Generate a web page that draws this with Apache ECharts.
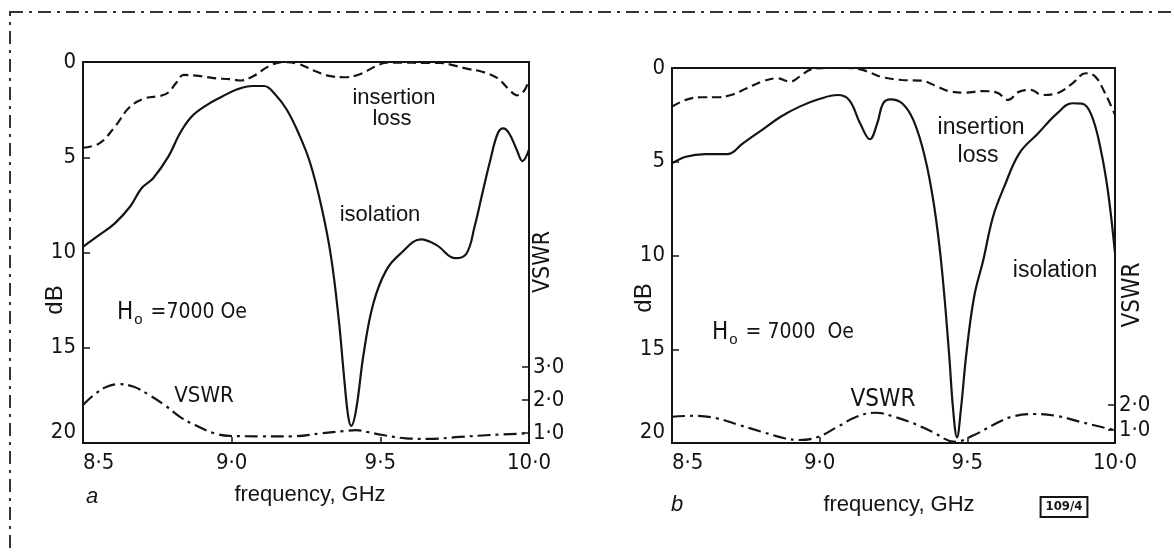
<!DOCTYPE html>
<html><head><meta charset="utf-8">
<script src="https://cdn.jsdelivr.net/npm/echarts@6/dist/echarts.min.js"></script>
<style>html,body{margin:0;padding:0;background:#fff}#c{width:1174px;height:552px}</style>
</head><body><div id="c"></div>
<script>
// ---- tick labels ----
const xTicks = [8.5, 9.0, 9.5, 10.0];
const dbTicks = [0, 5, 10, 15, 20];
const vswrTicksA = [1, 2, 3];
const vswrTicksB = [1, 2];

// ---- panel a ----
const freqInsA = [8.5,8.555,8.607,8.658,8.71,8.761,8.787,8.813,8.839,8.89,8.94,8.993,9.03,9.074,9.122,9.173,9.224,9.276,9.328,9.379,9.431,9.482,9.52,9.58,9.64,9.70,9.74,9.79,9.84,9.894,9.933,9.959,9.984,10.0];
const insA     = [4.5,4.27,3.4,2.35,1.9,1.78,1.6,1.1,0.68,0.73,0.85,0.9,0.97,0.73,0.25,0.0,0.1,0.45,0.73,0.8,0.64,0.25,0.04,0.03,0.05,0.05,0.15,0.35,0.5,0.85,1.45,1.75,1.5,0.9];

const freqIsoA = [8.5,8.555,8.607,8.658,8.697,8.736,8.787,8.826,8.865,8.916,8.967,9.019,9.071,9.109,9.148,9.186,9.225,9.264,9.302,9.334,9.36,9.379,9.392,9.402,9.418,9.444,9.476,9.521,9.572,9.637,9.688,9.753,9.79,9.817,9.843,9.87,9.895,9.913,9.933,9.959,9.978,10.0];
const isoA     = [9.7,9.08,8.47,7.6,6.63,6.1,4.97,3.74,2.87,2.26,1.82,1.43,1.26,1.26,1.73,2.52,3.74,5.3,7.6,10.2,13.5,16.7,18.6,19.1,18.3,15.3,12.7,10.9,10.0,9.31,9.6,10.3,10.05,8.64,6.9,5.14,3.74,3.48,3.74,4.62,5.2,4.6];

const freqVswrA = [8.5,8.543,8.58,8.62,8.671,8.723,8.774,8.826,8.877,8.942,8.993,9.096,9.2,9.302,9.379,9.418,9.457,9.508,9.585,9.663,9.766,9.87,10.0];
const vswrA     = [1.85,2.2,2.4,2.48,2.4,2.15,1.85,1.49,1.24,0.99,0.91,0.9,0.9,0.99,1.06,1.09,1.03,0.94,0.84,0.82,0.88,0.94,0.99];

// ---- panel b ----
const freqInsB = [8.5,8.547,8.598,8.65,8.70,8.753,8.804,8.855,8.9,8.932,8.971,9.02,9.086,9.138,9.176,9.215,9.279,9.343,9.394,9.445,9.497,9.548,9.6,9.638,9.676,9.715,9.753,9.804,9.856,9.901,9.933,9.965,10.0];
const insB     = [2.06,1.7,1.56,1.56,1.44,1.08,0.73,0.55,0.73,0.46,0.07,0.0,0.0,0.07,0.28,0.5,0.64,0.67,0.96,1.26,1.31,1.23,1.31,1.7,1.26,1.17,1.44,1.35,0.82,0.28,0.46,1.3,2.5];

const freqIsoB = [8.5,8.547,8.612,8.689,8.74,8.804,8.868,8.932,8.996,9.061,9.1,9.137,9.17,9.195,9.215,9.24,9.279,9.317,9.356,9.388,9.413,9.438,9.452,9.465,9.478,9.497,9.523,9.554,9.587,9.625,9.676,9.74,9.804,9.856,9.888,9.92,9.952,9.977,10.0];
const isoB     = [5.08,4.73,4.59,4.59,4.02,3.31,2.6,2.06,1.67,1.44,1.71,2.95,3.8,2.95,1.88,1.67,1.88,2.77,4.73,7.4,10.6,15.2,18.24,19.7,18.24,15.2,12.2,10.24,7.93,6.33,4.55,3.48,2.42,1.88,1.9,2.5,4.37,6.68,9.88];

const freqVswrB = [8.5,8.573,8.65,8.727,8.804,8.881,8.932,8.996,9.061,9.125,9.19,9.253,9.317,9.381,9.458,9.523,9.587,9.65,9.727,9.804,9.881,9.958,10.0];
const vswrB     = [1.53,1.57,1.47,1.2,0.93,0.67,0.6,0.73,1.13,1.53,1.69,1.53,1.27,0.93,0.53,0.8,1.2,1.53,1.64,1.56,1.33,1.11,1.0];

const zip = (a, b) => a.map((v, i) => [v, b[i]]);
const NUM = "'Liberation Sans Narrow','DejaVu Sans Condensed','Liberation Sans',sans-serif";
const TXT = "'Liberation Sans','DejaVu Sans',sans-serif";
const INK = '#141414';
const dot = v => v.toFixed(1).replace('.', '\u00b7');

function xAx(grid) {
  return {
    type: 'value', gridIndex: grid, min: 8.5, max: 10, interval: 0.5, position: 'bottom',
    axisLine: {show: true, onZero: false, lineStyle: {color: INK, width: 2}},
    axisTick: {show: true, inside: true, length: 6, customValues: [9.0, 9.5], lineStyle: {color: INK, width: 1.5}},
    axisLabel: {color: INK, fontFamily: NUM, fontSize: 22, margin: 9, formatter: dot,
      customValues: xTicks, alignMinLabel: 'left'},
    splitLine: {show: false}
  };
}
function dbAx(grid) {
  return {
    type: 'value', gridIndex: grid, min: 0, max: 20, interval: 5, inverse: true, position: 'left',
    axisLine: {show: true, onZero: false, lineStyle: {color: INK, width: 2}},
    axisTick: {show: true, inside: true, length: 7, customValues: [5, 10, 15], lineStyle: {color: INK, width: 1.5}},
    axisLabel: {color: INK, fontFamily: NUM, fontSize: 22, margin: 7, customValues: dbTicks,
      verticalAlignMaxLabel: 'bottom'},
    splitLine: {show: false}
  };
}
function vAx(grid, min, max, ticks) {
  return {
    type: 'value', gridIndex: grid, min: min, max: max, position: 'right',
    axisLine: {show: true, onZero: false, lineStyle: {color: INK, width: 2}},
    axisTick: {show: true, inside: true, length: 7, customValues: ticks, lineStyle: {color: INK, width: 1.5}},
    axisLabel: {color: INK, fontFamily: NUM, fontSize: 22, margin: 4, customValues: ticks, formatter: dot},
    splitLine: {show: false}
  };
}
function ser(x, y, data, type) {
  return {
    type: 'line', xAxisIndex: x, yAxisIndex: y, data: data, symbol: 'none', smooth: 0.4,
    silent: true, animation: false,
    lineStyle: {color: INK, width: 2.2, type: type}
  };
}
function txt(x, y, t, size, extra) {
  return Object.assign({type: 'text', x: x, y: y, silent: true,
    style: Object.assign({text: t, fill: INK, font: size + 'px ' + TXT, align: 'center', verticalAlign: 'middle'}, extra || {})});
}
function rtxt(x, y, t, size, fam) {
  return {type: 'text', x: x, y: y, rotation: Math.PI / 2, silent: true,
    style: {text: t, fill: INK, font: size + 'px ' + (fam || TXT), align: 'center', verticalAlign: 'middle'}};
}
function hText(x, y, t) {
  return {type: 'text', x: x, y: y, silent: true,
    style: {text: '{h|H}{s|o}{t|' + t + '}', fill: INK, align: 'left', verticalAlign: 'middle',
      rich: {h: {fontFamily: NUM, fontSize: 24, fill: INK},
             s: {fontFamily: TXT, fontSize: 15, fill: INK, padding: [14, 2, 0, 1]},
             t: {fontFamily: NUM, fontSize: 21, fill: INK}}}};
}

const chart = echarts.init(document.getElementById('c'), null, {renderer: 'canvas'});
chart.setOption({
  backgroundColor: '#fff',
  animation: false,
  grid: [
    {left: 83, top: 62, width: 446, height: 381, show: true, borderColor: INK, borderWidth: 2, backgroundColor: 'transparent'},
    {left: 672, top: 68, width: 443, height: 375, show: true, borderColor: INK, borderWidth: 2, backgroundColor: 'transparent'}
  ],
  xAxis: [xAx(0), xAx(1)],
  yAxis: [dbAx(0), vAx(0, 0.697, 12.242, vswrTicksA), dbAx(1), vAx(1, 0.48, 15.48, vswrTicksB)],
  series: [
    ser(0, 0, zip(freqInsA, insA), [9, 5]),
    ser(0, 0, zip(freqIsoA, isoA), 'solid'),
    ser(0, 1, zip(freqVswrA, vswrA), [13, 5, 3, 5]),
    ser(1, 2, zip(freqInsB, insB), [9, 5]),
    ser(1, 2, zip(freqIsoB, isoB), 'solid'),
    ser(1, 3, zip(freqVswrB, vswrB), [13, 5, 3, 5])
  ],
  graphic: [
    {type: 'rect', silent: true, shape: {x: 10, y: 12, width: 1400, height: 800},
      style: {fill: 'none', stroke: '#333', lineWidth: 2, lineDash: [13, 6, 3, 6]}},
    // panel a
    txt(394, 98, 'insertion', 22),
    txt(392, 119, 'loss', 22),
    txt(380, 215, 'isolation', 22),
    hText(117, 313, ' =7000 Oe'),
    txt(204, 396, 'VSWR', 22, {font: '22px ' + NUM}),
    rtxt(55, 300, 'dB', 24),
    rtxt(543, 262, 'VSWR', 23, NUM),
    txt(92, 497, 'a', 22, {font: 'italic 22px ' + TXT}),
    txt(310, 495, 'frequency, GHz', 22),
    // panel b
    txt(981, 128, 'insertion', 23),
    txt(978, 156, 'loss', 23),
    txt(1055, 271, 'isolation', 23),
    hText(712, 333, ' = 7000  Oe'),
    txt(883, 400, 'VSWR', 24, {font: '24px ' + NUM}),
    rtxt(644, 298, 'dB', 24),
    rtxt(1133, 295, 'VSWR', 24, NUM),
    txt(677, 505, 'b', 22, {font: 'italic 22px ' + TXT}),
    txt(899, 505, 'frequency, GHz', 22),
    {type: 'text', x: 1064, y: 507, silent: true,
      style: {text: '109/4', fill: INK, font: 'bold 13px ' + NUM, align: 'center', verticalAlign: 'middle',
        borderColor: INK, borderWidth: 2, padding: [3, 4, 2, 4], backgroundColor: '#fff'}}
  ]
});
</script>
</body></html>
